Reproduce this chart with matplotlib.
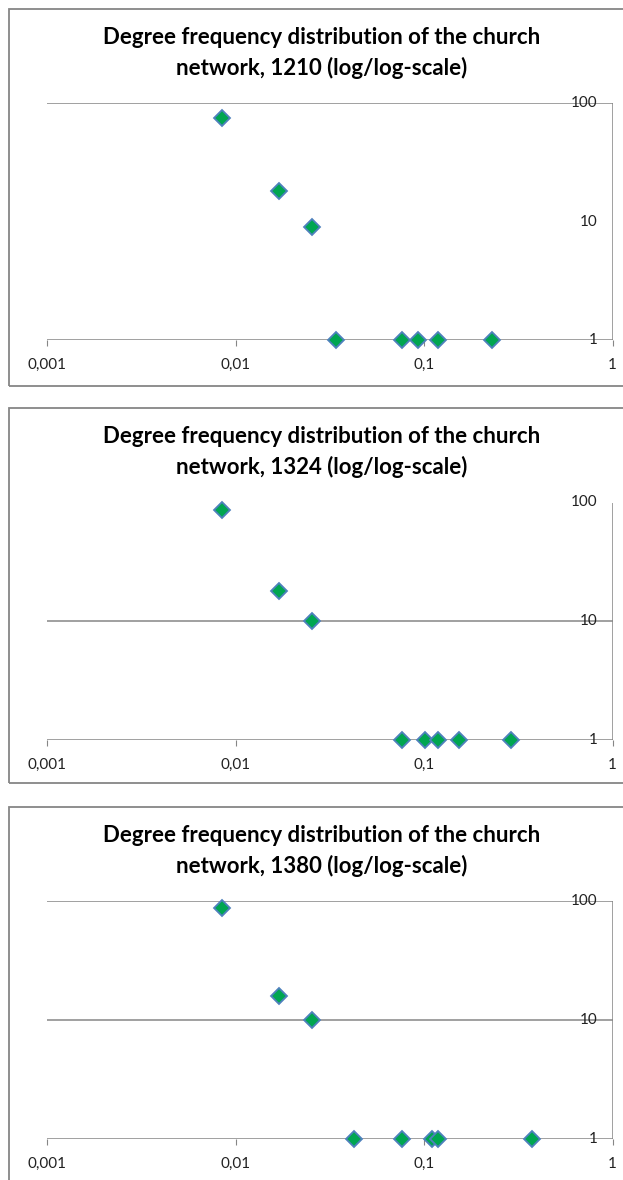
import matplotlib
matplotlib.use('Agg')
import matplotlib.pyplot as plt
from matplotlib.patches import Rectangle
from matplotlib.ticker import FixedLocator, NullLocator

# degree (share of network) vs. frequency
years = ['1210', '1324', '1380']

x_1210 = [0.0085, 0.0170, 0.0254, 0.0340, 0.0762, 0.0932, 0.1186, 0.2288]
y_1210 = [75, 18, 9, 1, 1, 1, 1, 1]

x_1324 = [0.0085, 0.0170, 0.0254, 0.0762, 0.1008, 0.1186, 0.1525, 0.2890]
y_1324 = [86, 18, 10, 1, 1, 1, 1, 1]

x_1380 = [0.0085, 0.0170, 0.0254, 0.0424, 0.0762, 0.1096, 0.1186, 0.3750]
y_1380 = [87, 16, 10, 1, 1, 1, 1, 1]

xticks = [0.001, 0.01, 0.1, 1]
xtick_labels = ['0,001', '0,01', '0,1', '1']
yticks = [1, 10, 100]
ytick_labels = ['1', '10', '100']

series = [(x_1210, y_1210), (x_1324, y_1324), (x_1380, y_1380)]
# the gridlines that actually show up in each panel of the original
grids = [[1, 100], [1, 10], [1, 10, 100]]

W, H = 623, 1180
fig = plt.figure(figsize=(W / 100., H / 100.), dpi=100)

grey = '#868686'
tick_font = {'family': 'Lato', 'size': 11, 'color': '#222222'}

# pixel layout of each panel: box top, box bottom, axes top, axes bottom
panels = [(9, 385.5, 103, 340), (408, 783, 502.5, 740), (807, 1190, 901, 1139)]
ax_left, ax_right = 47, 612.5

for i, (year, (xs, ys), (btop, bbot, atop, abot)) in enumerate(zip(years, series, panels)):
    fig.patches.append(Rectangle((9 / W, 1 - bbot / H), (640 - 9) / W, (bbot - btop) / H,
                                 transform=fig.transFigure, fill=False, ec=grey, lw=1.3))

    ax = fig.add_axes([ax_left / W, 1 - abot / H, (ax_right - ax_left) / W, (abot - atop) / H])
    ax.set_xscale('log')
    ax.set_yscale('log')
    ax.set_xlim(0.001, 1)
    ax.set_ylim(1, 100)
    for s in ax.spines.values():
        s.set_visible(False)

    for g in grids[i]:
        ax.axhline(g, color=grey, lw=1.1, zorder=1)
    ax.axvline(1, color=grey, lw=1.1, zorder=1)

    ax.xaxis.set_major_locator(FixedLocator(xticks))
    ax.xaxis.set_minor_locator(NullLocator())
    ax.set_xticklabels(xtick_labels, fontdict=tick_font)
    ax.tick_params(axis='x', length=4, width=0.8, color=grey, pad=9)

    ax.yaxis.set_major_locator(NullLocator())
    ax.yaxis.set_minor_locator(NullLocator())
    for v, lab in zip(yticks, ytick_labels):
        ax.annotate(lab, xy=(1, v), xycoords=ax.get_yaxis_transform(), xytext=(-11, 0),
                    textcoords='offset points', ha='right', va='center', **tick_font)

    ax.plot(xs, ys, linestyle='none', marker='D', markersize=8.5, markerfacecolor='#00a651',
            markeredgecolor='#4f81bd', markeredgewidth=1.3, clip_on=False, zorder=3)

    fig.text(322 / W, 1 - (btop + 44) / H,
             'Degree frequency distribution of the church\nnetwork, %s (log/log-scale)' % year,
             ha='center', va='center', fontsize=16, fontweight='bold', family='Lato',
             linespacing=1.5)

fig.savefig('out.png', dpi=100)
